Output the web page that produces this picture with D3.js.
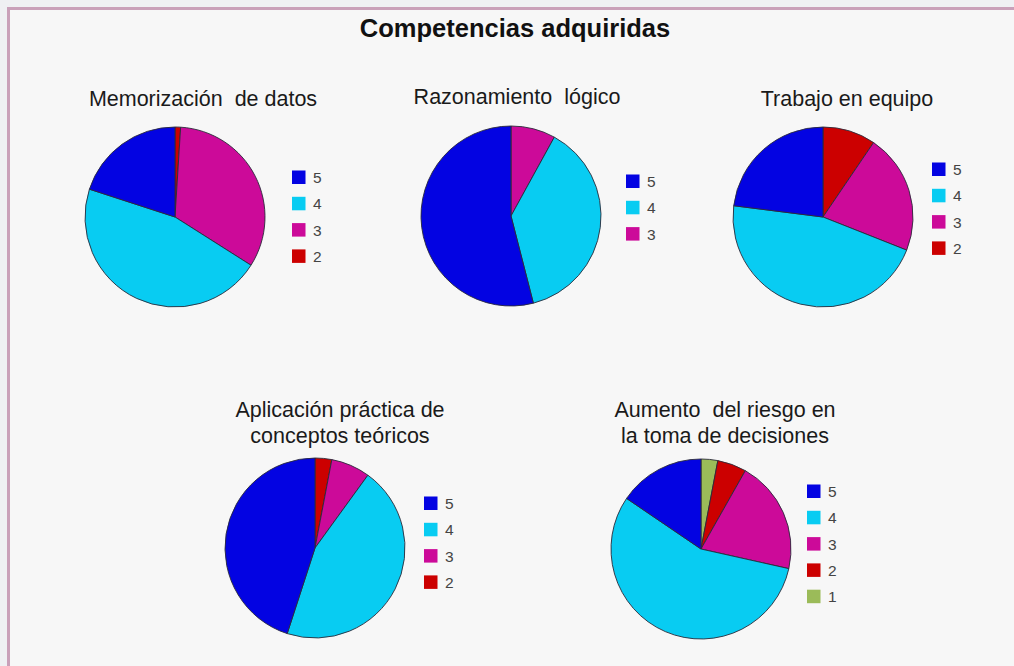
<!DOCTYPE html>
<html>
<head>
<meta charset="utf-8">
<script src="https://cdn.jsdelivr.net/npm/d3@7"></script>
<style>
  html, body { margin: 0; padding: 0; background: #eff0f3; }
  svg { display: block; }
</style>
</head>
<body>
<svg id="chart" width="1014" height="666"></svg>
<script>
// ---- data ----
const mainTitle = "Competencias adquiridas";
const chartTitles = [
  ["Memorización  de datos"],
  ["Razonamiento  lógico"],
  ["Trabajo en equipo"],
  ["Aplicación práctica de", "conceptos teóricos"],
  ["Aumento  del riesgo en", "la toma de decisiones"]
];
const categories5 = ["5", "4", "3", "2", "1"];
const memorizacion = [20, 46, 33, 1];
const razonamiento = [54, 38, 8];
const trabajo = [23, 46, 21.5, 9.5];
const aplicacion = [45, 45, 7, 3];
const aumento = [15.5, 56, 20.3, 5.2, 3];

const seriesList = [memorizacion, razonamiento, trabajo, aplicacion, aumento];

// ---- style / layout ----
const colorMap = { "5": "#0303e2", "4": "#08ccf2", "3": "#cc0a99", "2": "#cc0000", "1": "#9bbb59" };
const layout = [
  { cx: 175, cy: 217, tx: 203, ty: 106, lx: 117, ly: -40 },
  { cx: 511, cy: 216, tx: 517, ty: 104, lx: 115, ly: -35 },
  { cx: 823, cy: 217, tx: 847, ty: 106, lx: 109, ly: -48 },
  { cx: 315, cy: 548, tx: 340, ty: 417, lx: 109, ly: -45 },
  { cx: 701, cy: 549, tx: 725, ty: 417, lx: 106, ly: -58 }
];
const R = 90;

const svg = d3.select("#chart");
svg.append("rect")
  .attr("x", 8.5).attr("y", 8.5).attr("width", 1020).attr("height", 680)
  .attr("fill", "#f7f7f7").attr("stroke", "#c9a0b9").attr("stroke-width", 3);

svg.append("text")
  .attr("x", 515).attr("y", 37)
  .attr("text-anchor", "middle")
  .attr("font-family", "Liberation Sans, Arial, sans-serif")
  .attr("font-weight", "bold")
  .attr("font-size", 25.5)
  .attr("fill", "#111")
  .text(mainTitle);

const pie = d3.pie().sort(null).value(d => d.v);
const arc = d3.arc().innerRadius(0).outerRadius(R);

seriesList.forEach((vals, i) => {
  const L = layout[i];
  const data = vals.map((v, k) => ({ cat: categories5[k], v }));
  const g = svg.append("g").attr("transform", `translate(${L.cx},${L.cy})`);
  // drawn clockwise from 12 o'clock starting with the lowest score
  const drawData = data.slice().reverse();
  g.selectAll("path")
    .data(pie(drawData))
    .join("path")
    .attr("d", arc)
    .attr("fill", d => colorMap[d.data.cat])
    .attr("stroke", "#2a2a3a")
    .attr("stroke-width", 0.9);

  // title
  const t = svg.append("text")
    .attr("x", L.tx).attr("y", L.ty)
    .attr("text-anchor", "middle")
    .attr("font-family", "Liberation Sans, Arial, sans-serif")
    .attr("font-size", 21.5)
    .attr("fill", "#1a1a1a")
    .attr("xml:space", "preserve");
  chartTitles[i].forEach((line, j) => {
    t.append("tspan").attr("x", L.tx).attr("dy", j === 0 ? 0 : 25.5).text(line);
  });

  // legend
  const lg = g.append("g").attr("transform", `translate(${L.lx},${L.ly})`);
  const items = lg.selectAll("g").data(data).join("g")
    .attr("transform", (d, k) => `translate(0,${k * 26.3})`);
  items.append("rect")
    .attr("x", 0).attr("y", -6.5).attr("width", 13.5).attr("height", 13.5)
    .attr("fill", d => colorMap[d.cat]);
  items.append("text")
    .attr("x", 21).attr("y", 6)
    .attr("font-family", "Liberation Sans, Arial, sans-serif")
    .attr("font-size", 15.5)
    .attr("fill", "#444")
    .text(d => d.cat);
});
</script>
</body>
</html>
